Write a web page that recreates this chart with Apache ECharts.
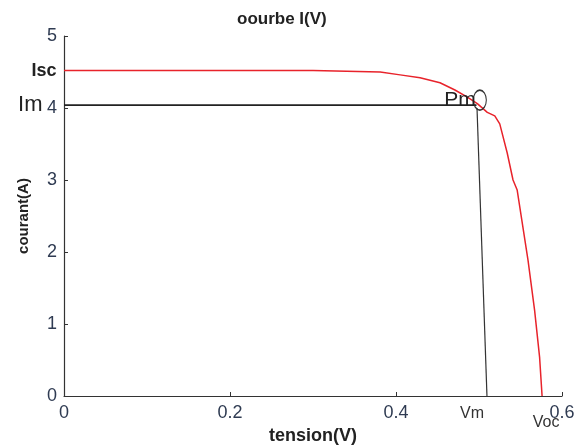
<!DOCTYPE html>
<html>
<head>
<meta charset="utf-8">
<script src="https://cdn.jsdelivr.net/npm/echarts@6/dist/echarts.min.js"></script>
<style>html,body{margin:0;padding:0;background:#fff}#c{width:577px;height:448px}</style>
</head>
<body>
<div id="c"></div>
<script>
var titleText = 'oourbe I(V)';
var xName = 'tension(V)';
var yName = 'courant(A)';
var xTicks = [0, 0.2, 0.4, 0.6];
var yTicks = [0, 1, 2, 3, 4, 5];
var Isc = 4.52;
var Im = 4.04;
var Voc = 0.576;
var curveV = [0, 0.10, 0.20, 0.30, 0.381, 0.405, 0.429, 0.453, 0.471, 0.486, 0.498, 0.510, 0.519, 0.525, 0.534, 0.541, 0.546, 0.559, 0.567, 0.573, 0.576];
var curveI = [4.52, 4.52, 4.52, 4.52, 4.50, 4.46, 4.42, 4.35, 4.25, 4.15, 4.06, 3.94, 3.89, 3.78, 3.375, 3.0, 2.86, 1.89, 1.19, 0.54, 0.0];
var imLineV = [0, 0.497];
var imLineI = [Im, Im];
var vmLineV = [0.4976, 0.5096];
var vmLineI = [4.0, 0];
var pmPoint = [0.501, 4.11];

var FF = 'Liberation Sans';
var labelPoints = [
  { value: [0, Isc], label: { show: true, position: 'left', distance: 7, formatter: 'Isc', fontSize: 18, fontWeight: 'bold', color: '#222', fontFamily: FF } },
  { value: [0, Im], label: { show: true, position: 'left', distance: 21, formatter: 'Im', fontSize: 22, color: '#222', fontFamily: FF } },
  { value: [vmLineV[1], 0], label: { show: true, position: 'bottom', distance: 9, offset: [-15, 0], formatter: 'Vm', fontSize: 16, color: '#333', fontFamily: FF } },
  { value: [Voc, 0], label: { show: true, position: 'bottom', distance: 18, offset: [4, 0], formatter: 'Voc', fontSize: 16, color: '#333', fontFamily: FF } }
];

var chart = echarts.init(document.getElementById('c'), null, { renderer: 'canvas' });
chart.setOption({
  animation: false,
  backgroundColor: '#fff',
  title: {
    text: titleText, left: 232, top: 6,
    textStyle: { fontSize: 17, fontWeight: 'bold', color: '#222', fontFamily: FF }
  },
  grid: { left: 64, right: 15, top: 36, bottom: 52, containLabel: false, outerBoundsMode: 'none' },
  xAxis: {
    type: 'value', min: 0, max: 0.6, interval: 0.2,
    name: xName, nameLocation: 'middle', nameGap: 30,
    nameTextStyle: { fontSize: 18, fontWeight: 'bold', color: '#222', fontFamily: FF },
    axisLine: { show: true, lineStyle: { color: '#333', width: 1.2 } },
    axisTick: { show: true, inside: true, length: 4, lineStyle: { color: '#333' } },
    axisLabel: { margin: 8, fontSize: 18, color: '#2f3b52', fontFamily: FF,
      formatter: function (v) { return v === 0 ? '0' : v.toFixed(1); } },
    splitLine: { show: false }
  },
  yAxis: {
    type: 'value', min: 0, max: 5, interval: 1,
    name: yName, nameLocation: 'middle', nameGap: 33,
    nameTextStyle: { fontSize: 15, fontWeight: 'bold', color: '#222', fontFamily: FF },
    axisLine: { show: true, lineStyle: { color: '#333', width: 1.2 } },
    axisTick: { show: true, inside: true, length: 4, lineStyle: { color: '#333' } },
    axisLabel: { margin: 7, fontSize: 18, color: '#2f3b52', fontFamily: FF },
    splitLine: { show: false }
  },
  series: [
    { type: 'line', data: curveV.map(function (v, i) { return [v, curveI[i]]; }), symbol: 'none',
      lineStyle: { color: '#e8232b', width: 1.5 }, z: 3 },
    { type: 'line', data: imLineV.map(function (v, i) { return [v, imLineI[i]]; }), symbol: 'none',
      lineStyle: { color: '#222', width: 1.6 }, z: 2 },
    { type: 'line', data: vmLineV.map(function (v, i) { return [v, vmLineI[i]]; }), symbol: 'none',
      lineStyle: { color: '#333', width: 1.2 }, z: 2 },
    { type: 'scatter', data: labelPoints, symbol: 'circle', symbolSize: 1,
      itemStyle: { color: 'rgba(0,0,0,0)', opacity: 1 }, z: 5, silent: true },
    { type: 'scatter', data: [pmPoint], symbol: 'circle', symbolSize: [13, 20],
      itemStyle: { color: 'rgba(0,0,0,0)', borderColor: '#333', borderWidth: 1.3, opacity: 1 },
      label: { show: true, position: 'left', distance: -3, formatter: 'Pm', fontSize: 21, color: '#222', fontFamily: FF },
      z: 4 }
  ]
});
</script>
</body>
</html>
